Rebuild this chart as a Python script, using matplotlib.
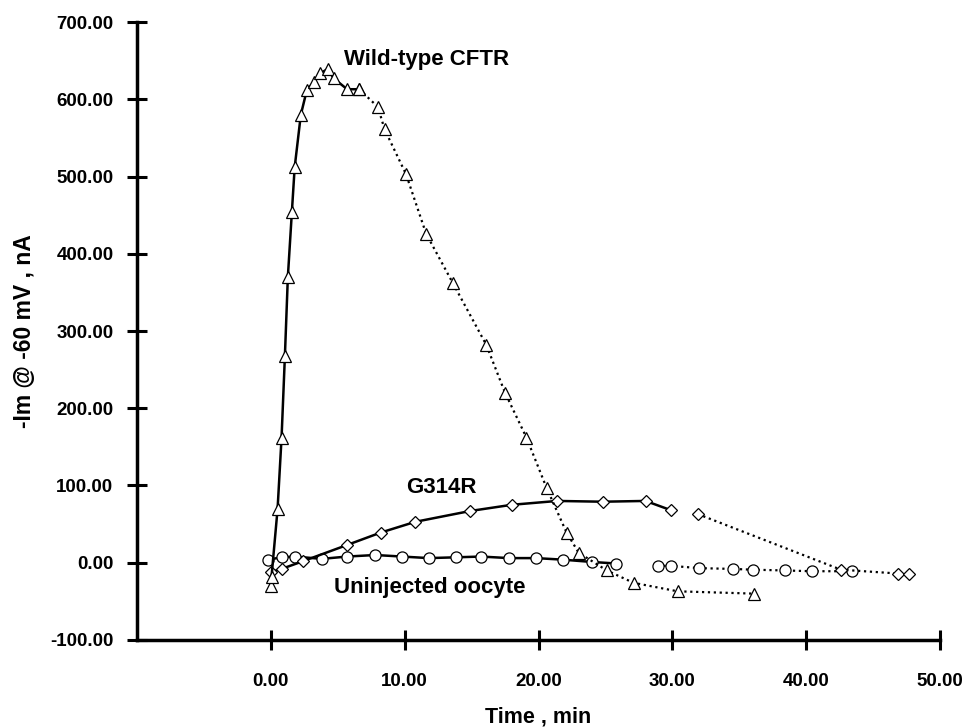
import matplotlib
matplotlib.use("Agg")
import matplotlib.pyplot as plt
from matplotlib.ticker import FormatStrFormatter

plt.rcParams['font.family'] = ['Liberation Sans', 'DejaVu Sans']
plt.rcParams['font.weight'] = 'bold'

# Wild-type CFTR (triangles): solid rise, dotted decay
wt_t_solid = [0.0, 0.05, 0.5, 0.8, 1.05, 1.27, 1.57, 1.78, 2.24, 2.69, 3.2, 3.7, 4.25, 4.7, 5.7, 6.6]
wt_i_solid = [-30, -18, 69, 162, 268, 370, 454, 512, 580, 612, 622, 634, 639, 627, 613, 613]
wt_t_dot = [6.6, 8.0, 8.5, 10.1, 11.6, 13.6, 16.1, 17.5, 19.1, 20.6, 22.1, 23.0, 25.1, 27.1, 30.4, 36.1]
wt_i_dot = [613, 590, 561, 503, 426, 362, 282, 220, 162, 97, 39, 13, -10, -26, -37, -40]

# G314R (diamonds)
g_t_solid = [0.0, 0.8, 2.4, 5.7, 8.2, 10.8, 14.9, 18.0, 21.4, 24.8, 28.0, 29.9]
g_i_solid = [-12, -8, 2, 23, 39, 53, 67, 75, 80, 79, 80, 68]
g_t_dot = [31.9, 42.6, 46.9, 47.7]
g_i_dot = [63, -9, -14, -14]

# Uninjected oocyte (circles)
u_t_solid = [-0.2, 0.8, 1.8, 3.8, 5.7, 7.8, 9.8, 11.8, 13.8, 15.7, 17.8, 19.8, 21.8, 24.0, 25.8]
u_i_solid = [4, 7, 8, 5, 8, 10, 8, 6, 7, 8, 6, 6, 4, 1, -1]
u_t_dot = [28.9, 29.9, 32.0, 34.5, 36.0, 38.4, 40.4, 43.4]
u_i_dot = [-4, -4, -7, -8, -9, -10, -11, -11]

fig = plt.figure(figsize=(9.63, 7.27), dpi=100)
ax = fig.add_axes([0.1423, 0.1197, 0.8338, 0.85])

mk = dict(markerfacecolor='white', markeredgecolor='black', markeredgewidth=0.9, color='black')

ax.plot(u_t_solid, u_i_solid, '-', marker='o', markersize=8, lw=1.8, **mk)
ax.plot(u_t_dot, u_i_dot, ':', marker='o', markersize=8, lw=1.6, **mk)
ax.plot(g_t_solid, g_i_solid, '-', marker='D', markersize=6.5, lw=1.8, **mk)
ax.plot(g_t_dot, g_i_dot, ':', marker='D', markersize=6.5, lw=1.6, **mk)
ax.plot(wt_t_solid, wt_i_solid, '-', marker='^', markersize=8.5, lw=1.8, **mk)
ax.plot(wt_t_dot, wt_i_dot, ':', marker='^', markersize=8.5, lw=1.6, **mk)

ax.set_xlim(-10, 50)
ax.set_ylim(-100, 700)
ax.set_xticks(range(0, 51, 10))
ax.set_yticks(range(-100, 701, 100))
ax.xaxis.set_major_formatter(FormatStrFormatter('%.2f'))
ax.yaxis.set_major_formatter(FormatStrFormatter('%.2f'))

for s in ['top', 'right']:
    ax.spines[s].set_visible(False)
for s in ['left', 'bottom']:
    ax.spines[s].set_linewidth(2.5)
ax.tick_params(axis='both', direction='inout', length=14, width=2.2, labelsize=13.5)
ax.tick_params(axis='y', pad=10)
ax.tick_params(axis='x', pad=17)

ax.set_xlabel('Time , min', fontsize=15.5, fontweight='bold', labelpad=12)
ax.set_ylabel('-Im @ -60 mV , nA', fontsize=16.5, fontweight='bold', labelpad=10)

ax.text(5.45, 651, 'Wild-type CFTR', fontsize=16, fontweight='bold', va='center', ha='left')
ax.text(10.1, 97, 'G314R', fontsize=16, fontweight='bold', va='center', ha='left')
ax.text(4.7, -32, 'Uninjected oocyte', fontsize=16, fontweight='bold', va='center', ha='left')

fig.savefig('out.png', dpi=100)
